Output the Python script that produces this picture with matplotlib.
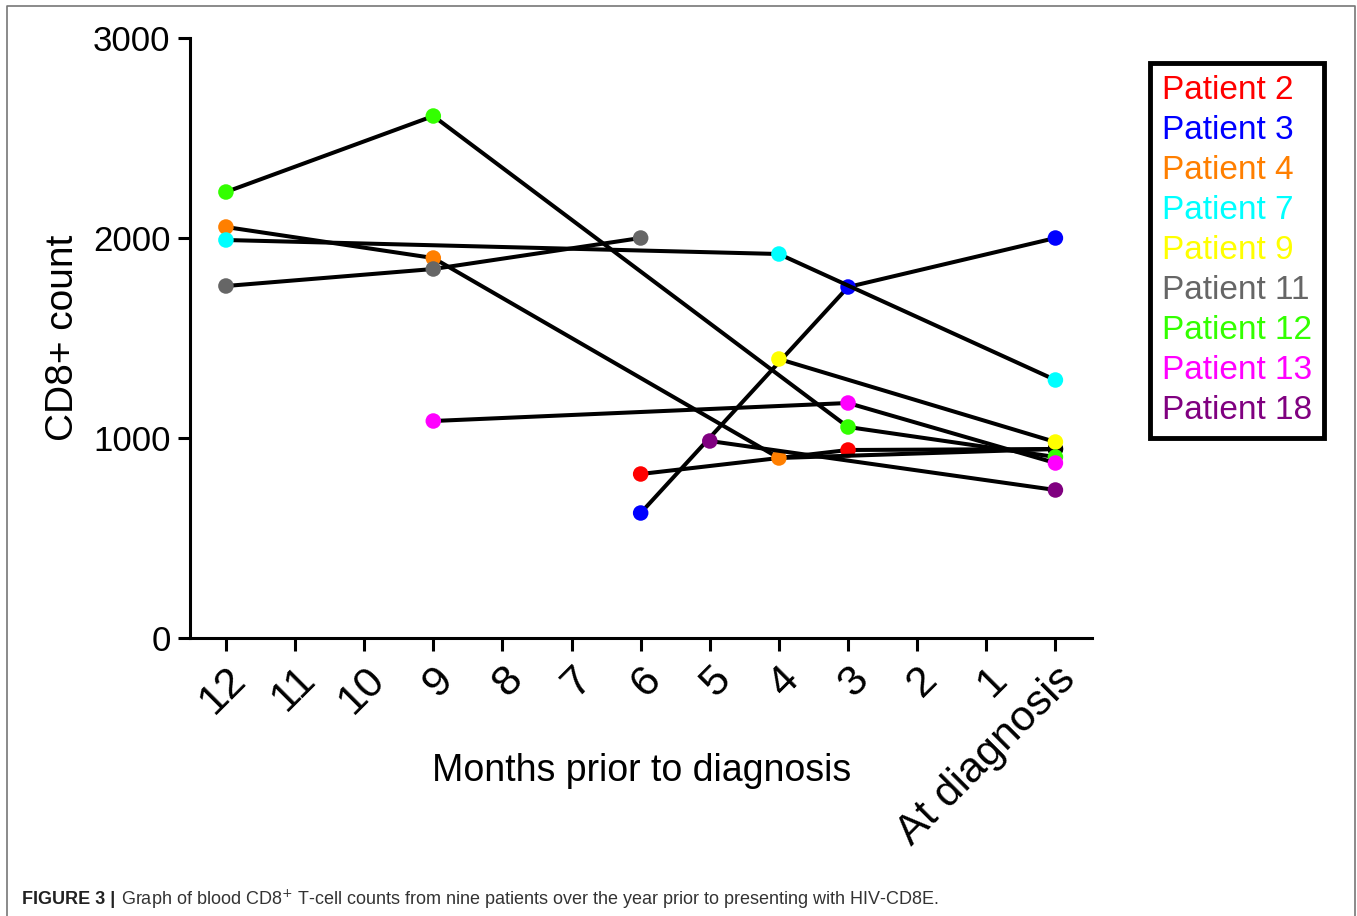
#!/usr/bin/env python

"""plot.py: CD8+ T-cell counts of nine patients over the year before HIV-CD8E diagnosis."""

import matplotlib
matplotlib.use("Agg")
import matplotlib.pyplot as plt
from matplotlib.lines import Line2D

plt.rcParams['font.family'] = ['Liberation Sans', 'DejaVu Sans']

# months prior to diagnosis (0 = at diagnosis)
month_ticks = [12, 11, 10, 9, 8, 7, 6, 5, 4, 3, 2, 1, 0]
month_labels = ["12", "11", "10", "9", "8", "7", "6", "5", "4", "3", "2", "1", "At diagnosis"]

patients = ["Patient 2", "Patient 3", "Patient 4", "Patient 7", "Patient 9",
            "Patient 11", "Patient 12", "Patient 13", "Patient 18"]
colors = ["#ff0000", "#0000ff", "#ff7f00", "#00ffff", "#ffff00",
          "#666666", "#33ff00", "#ff00ff", "#800080"]

p2_months = [6, 3, 0]
p2_counts = [820, 940, 945]
p3_months = [6, 3, 0]
p3_counts = [625, 1755, 2000]
p4_months = [12, 9, 4, 0]
p4_counts = [2055, 1900, 900, 945]
p7_months = [12, 4, 0]
p7_counts = [1990, 1920, 1290]
p9_months = [4, 0]
p9_counts = [1395, 980]
p11_months = [12, 9, 6]
p11_counts = [1760, 1845, 2000]
p12_months = [12, 9, 3, 0]
p12_counts = [2230, 2610, 1055, 905]
p13_months = [9, 3, 0]
p13_counts = [1085, 1175, 875]
p18_months = [5, 0]
p18_counts = [985, 740]

series = [(p2_months, p2_counts), (p3_months, p3_counts), (p4_months, p4_counts),
          (p7_months, p7_counts), (p9_months, p9_counts), (p11_months, p11_counts),
          (p12_months, p12_counts), (p13_months, p13_counts), (p18_months, p18_counts)]

# points hidden under the bundle of lines at diagnosis show up as a black dot
covered = {("Patient 2", 0), ("Patient 4", 0)}


def main():
    fig = plt.figure(figsize=(13.57, 9.16), dpi=100)
    ax = fig.add_axes([0.140, 0.3035, 0.665, 0.655])

    for i, (name, col, (xs, ys)) in enumerate(zip(patients, colors, series)):
        z = 3 + 2 * i
        ax.plot(xs, ys, color="black", linewidth=2.9, zorder=z, solid_capstyle="round")
        fc = ["black" if (name, x) in covered else col for x in xs]
        ax.scatter(xs, ys, c=fc, s=125, edgecolors="none", zorder=z + 1)

    ax.set_xlim(12.52, -0.535)
    ax.set_ylim(0, 3000)
    ax.set_xticks(month_ticks)
    ax.set_xticklabels(month_labels, rotation=45, ha="right", va="top",
                       rotation_mode="anchor", fontsize=31)
    ax.set_yticks([0, 1000, 2000, 3000])
    ax.tick_params(axis="y", labelsize=25, length=9, width=2.2, pad=5)
    ax.tick_params(axis="x", length=9, width=2.2, pad=6)

    for side in ["top", "right"]:
        ax.spines[side].set_visible(False)
    for side in ["left", "bottom"]:
        ax.spines[side].set_linewidth(2.2)

    ax.set_ylabel("CD8+ count", fontsize=28, labelpad=9)
    fig.text(0.473, 0.158, "Months prior to diagnosis", fontsize=27,
             ha="center", va="center")

    handles = [Line2D([], [], linestyle="none") for _ in patients]
    leg = fig.legend(handles, patients, labelcolor=colors, loc="upper left",
                     bbox_to_anchor=(0.8475, 0.9312), borderaxespad=0, fontsize=24,
                     handlelength=0, handletextpad=0, labelspacing=0.27,
                     borderpad=0.36, frameon=True, fancybox=False,
                     framealpha=1, edgecolor="black")
    leg.get_frame().set_linewidth(3.5)

    # caption strip and page border
    fig.text(0.0162, 0.0185, "FIGURE 3 |", fontsize=13, fontweight="bold",
             ha="left", va="center", color="#222222")
    fig.text(0.0895, 0.0185,
             "Graph of blood CD8$^{+}$ T-cell counts from nine patients over the "
             "year prior to presenting with HIV-CD8E.",
             fontsize=13, ha="left", va="center", color="#333333")
    fig.add_artist(Line2D([0.0055, 0.0055, 0.9985, 0.9985], [0.0, 0.9935, 0.9935, 0.0],
                          transform=fig.transFigure, color="#777777", linewidth=1.2))

    fig.savefig("out.png", dpi=100)


if __name__ == "__main__":
    main()
